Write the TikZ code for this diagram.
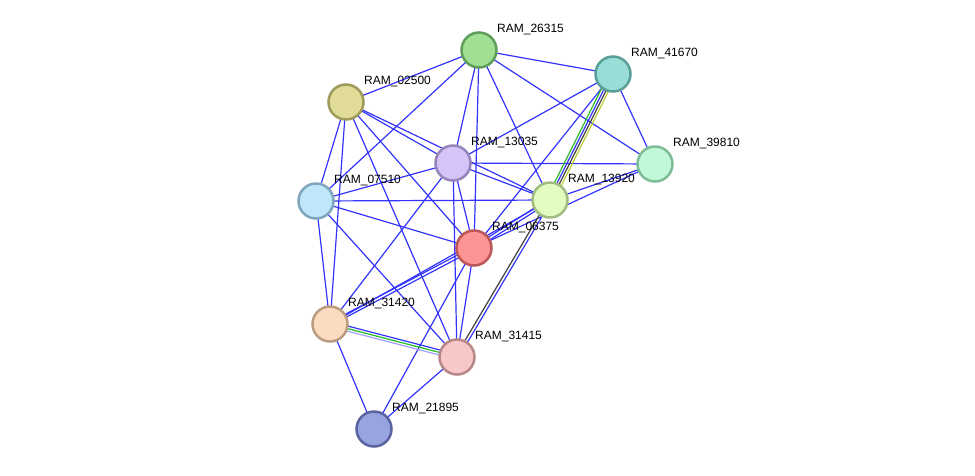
\documentclass[tikz,border=0pt]{standalone}
\usepackage{fontspec}
\setmainfont{Liberation Sans}
\usetikzlibrary{calc,backgrounds}
\definecolor{eblue}{HTML}{3333FF}
\definecolor{egreen}{HTML}{22BB22}
\definecolor{egray}{HTML}{404040}
\definecolor{eyellow}{HTML}{BBCC22}
\definecolor{elblue}{HTML}{A0A0FF}
\tikzset{
  prot/.style={circle,minimum size=35pt,inner sep=0pt,line width=2.5pt},
  lbl/.style={anchor=base west,inner sep=0pt,font=\fontsize{12}{12}\selectfont},
  edge/.style={line width=1.2pt,eblue}
}
\newcommand{\offedge}[4]{%
  \draw[line width=1.2pt,#4] ($(#1.center)!#3!90:(#2.center)$) -- ($(#2.center)!#3!-90:(#1.center)$);}
\newcommand{\prot}[5]{%
  \definecolor{fill#1}{HTML}{#4}\definecolor{draw#1}{HTML}{#5}%
  \node[prot,fill=fill#1,draw=draw#1] (#1) at (#2,#3) {};
  \node[lbl] (#1l) at ($(#1.center)+(18,-18)$) {RAM\_#1};}
\begin{document}
\begin{tikzpicture}[x=1pt,y=-1pt]
\useasboundingbox (0,0) rectangle (975,475);
\prot{26315}{479}{50}{A0E092}{5E9E5A}
\prot{41670}{613}{74}{98DED6}{5A9E98}
\prot{02500}{346}{102}{E0DC98}{9E9A5A}
\prot{13035}{453}{163}{D4C4F8}{9684BA}
\prot{39810}{655}{164}{C2F8DA}{7EBC98}
\prot{07510}{316}{201}{C0E6FA}{7EA6BC}
\prot{13920}{550}{200}{E2FCC0}{A0BC80}
\prot{06375}{474}{248}{FC9494}{BC5858}
\prot{31420}{330}{324}{FCDCC0}{BC9C80}
\prot{31415}{457}{357}{F8C8C8}{B88888}
\prot{21895}{374}{429}{98A4E0}{5A64A0}
\begin{pgfonlayer}{background}
\foreach \a/\b in {26315/02500,26315/41670,26315/39810,26315/07510,26315/13035,26315/06375,26315/13920,
  41670/13035,41670/39810,41670/06375,
  02500/13035,02500/13920,02500/06375,02500/31415,02500/31420,02500/07510,
  07510/13035,07510/13920,07510/06375,07510/31420,07510/31415,
  13035/39810,13035/13920,13035/06375,13035/31415,13035/31420,
  13920/39810,06375/39810,31420/13920,
  06375/31415,06375/21895,21895/31420,21895/31415}
  {\draw[edge] (\a.center) -- (\b.center);}
\offedge{06375}{13920}{1.5pt}{eblue}
\offedge{06375}{13920}{-1.5pt}{eblue}
\offedge{31420}{06375}{1.5pt}{eblue}
\offedge{31420}{06375}{-1.5pt}{eblue}
\offedge{31415}{13920}{1.5pt}{egray}
\offedge{31415}{13920}{-1.5pt}{eblue}
\offedge{41670}{13920}{-3.75pt}{egreen}
\offedge{41670}{13920}{-1.25pt}{eblue}
\offedge{41670}{13920}{1.25pt}{egray}
\offedge{41670}{13920}{3.75pt}{eyellow}
\offedge{31420}{31415}{2.5pt}{eblue}
\offedge{31420}{31415}{0pt}{egreen}
\offedge{31420}{31415}{-2.5pt}{elblue}
\end{pgfonlayer}
\end{tikzpicture}
\end{document}
